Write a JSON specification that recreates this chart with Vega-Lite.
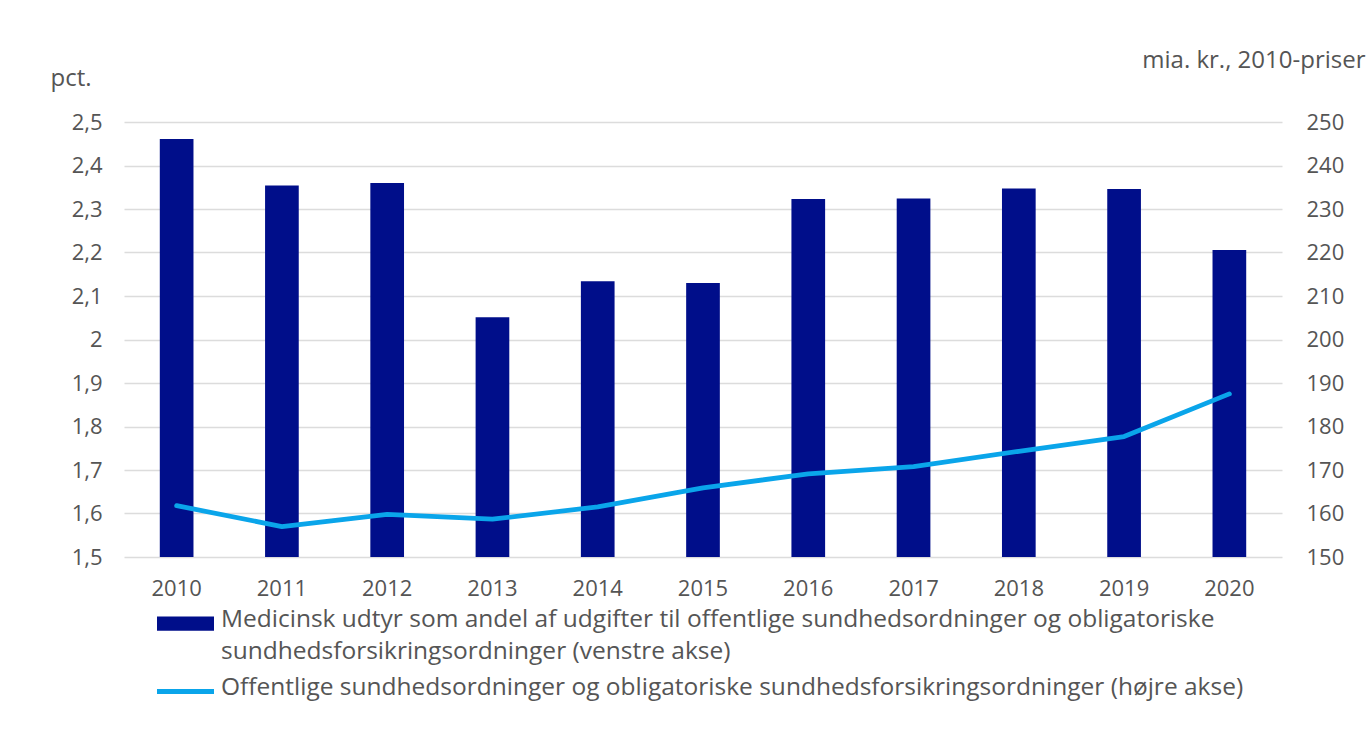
{
  "$schema": "https://vega.github.io/schema/vega-lite/v6.json",
  "width": 1158,
  "height": 435,
  "autosize": {"type": "none"},
  "padding": {"left": 124, "top": 122, "right": 87, "bottom": 177},
  "background": "white",
  "config": {
    "font": "Open Sans",
    "view": {"stroke": null},
    "axis": {"labelFont": "Open Sans", "titleFont": "Open Sans", "labelColor": "#555555", "titleColor": "#555555", "labelFontSize": 22, "titleFontSize": 24, "titleFontWeight": "normal", "ticks": false, "domain": false},
    "legend": {"labelFont": "Open Sans", "labelFontSize": 24.5, "labelColor": "#555555"}
  },
  "data": {
    "values": [
      {"year": "2010", "andel": 2.461, "udgifter": 161.8},
      {"year": "2011", "andel": 2.354, "udgifter": 157.0},
      {"year": "2012", "andel": 2.360, "udgifter": 159.8},
      {"year": "2013", "andel": 2.051, "udgifter": 158.7},
      {"year": "2014", "andel": 2.134, "udgifter": 161.5},
      {"year": "2015", "andel": 2.130, "udgifter": 165.9},
      {"year": "2016", "andel": 2.323, "udgifter": 169.1},
      {"year": "2017", "andel": 2.324, "udgifter": 170.8},
      {"year": "2018", "andel": 2.347, "udgifter": 174.3},
      {"year": "2019", "andel": 2.346, "udgifter": 177.7},
      {"year": "2020", "andel": 2.206, "udgifter": 187.5}
    ]
  },
  "encoding": {
    "x": {
      "field": "year",
      "type": "ordinal",
      "scale": {"paddingInner": 0.68, "paddingOuter": 0.34},
      "axis": {"title": null, "labelAngle": 0, "labelPadding": 21, "grid": false}
    }
  },
  "layer": [
    {
      "mark": {"type": "bar", "color": "#000E8A"},
      "encoding": {
        "y": {
          "field": "andel",
          "type": "quantitative",
          "scale": {"domain": [1.5, 2.5], "zero": false, "nice": false},
          "axis": {
            "title": "pct.",
            "titleAngle": 0,
            "titleX": -74,
            "titleY": -44,
            "titleAlign": "left",
            "titleBaseline": "middle",
            "values": [1.5, 1.6, 1.7, 1.8, 1.9, 2.0, 2.1, 2.2, 2.3, 2.4, 2.5],
            "labelExpr": "replace(format(datum.value, '.1~f'), '.', ',')",
            "labelPadding": 22,
            "grid": true,
            "gridColor": "#dcdcdc",
            "gridWidth": 1.5
          }
        },
        "y2": {"datum": 1.5},
        "color": {
          "datum": "Medicinsk udtyr som andel af udgifter til offentlige sundhedsordninger og obligatoriske sundhedsforsikringsordninger (venstre akse)",
          "type": "nominal",
          "scale": {
            "domain": [
              "Medicinsk udtyr som andel af udgifter til offentlige sundhedsordninger og obligatoriske sundhedsforsikringsordninger (venstre akse)",
              "Offentlige sundhedsordninger og obligatoriske sundhedsforsikringsordninger (højre akse)"
            ],
            "range": ["#000E8A", "#0AA5EA"]
          },
          "legend": {
            "title": null,
            "orient": "none",
            "legendX": 33,
            "legendY": 473,
            "direction": "vertical",
            "symbolSize": 3249,
            "labelOffset": 7,
            "labelLimit": 0,
            "labelBaseline": "top",
            "rowPadding": -8,
            "labelExpr": "datum.label == 'Medicinsk udtyr som andel af udgifter til offentlige sundhedsordninger og obligatoriske sundhedsforsikringsordninger (venstre akse)' ? ['Medicinsk udtyr som andel af udgifter til offentlige sundhedsordninger og obligatoriske', 'sundhedsforsikringsordninger (venstre akse)'] : datum.label",
            "encode": {
              "symbols": {
                "update": {
                  "shape": {"signal": "datum.value == 'Offentlige sundhedsordninger og obligatoriske sundhedsforsikringsordninger (højre akse)' ? 'M-1,-0.09H1V0.09H-1Z' : 'M-1,-0.25H1V0.25H-1Z'"},
                  "fill": {"signal": "datum.value == 'Offentlige sundhedsordninger og obligatoriske sundhedsforsikringsordninger (højre akse)' ? '#0AA5EA' : '#000E8A'"},
                  "stroke": {"value": "transparent"},
                  "strokeWidth": {"value": 0},
                  "opacity": {"value": 1}
                }
              },
              "labels": {
                "update": {
                  "dy": {"value": -16},
                  "lineHeight": {"value": 32}
                }
              }
            }
          }
        }
      }
    },
    {
      "mark": {"type": "line", "color": "#0AA5EA", "strokeWidth": 4.8, "strokeCap": "round", "strokeJoin": "round"},
      "encoding": {
        "y": {
          "field": "udgifter",
          "type": "quantitative",
          "scale": {"domain": [150, 250], "zero": false, "nice": false},
          "axis": {
            "orient": "right",
            "title": "mia. kr., 2010-priser",
            "titleAngle": 0,
            "titleX": 83,
            "titleY": -62,
            "titleAlign": "right",
            "titleBaseline": "middle",
            "values": [150, 160, 170, 180, 190, 200, 210, 220, 230, 240, 250],
            "labelPadding": 24,
            "labelAlign": "left",
            "grid": false
          }
        },
        "color": {
          "datum": "Offentlige sundhedsordninger og obligatoriske sundhedsforsikringsordninger (højre akse)",
          "type": "nominal"
        }
      }
    }
  ],
  "resolve": {"scale": {"y": "independent"}}
}
